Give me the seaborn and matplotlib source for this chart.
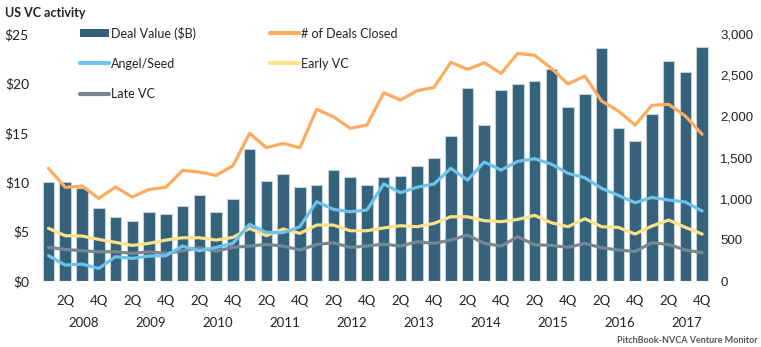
import numpy as np
import pandas as pd
import matplotlib
matplotlib.use("Agg")
import matplotlib.pyplot as plt
import seaborn as sns
from matplotlib.patches import Patch
from matplotlib.lines import Line2D
from matplotlib.ticker import FuncFormatter
from matplotlib.transforms import blended_transform_factory

# Quarterly US VC activity, 2008 Q1 - 2017 Q4
years = ["2008", "2009", "2010", "2011", "2012", "2013", "2014", "2015", "2016", "2017"]
quarters = ["1Q", "2Q", "3Q", "4Q"]

deal_value = [10.0, 10.0, 9.4, 7.4, 6.5, 6.1, 7.0, 6.8, 7.6, 8.7,
              7.0, 8.3, 13.4, 10.1, 10.8, 9.5, 9.7, 11.2, 10.5, 9.7,
              10.5, 10.6, 11.6, 12.5, 14.7, 19.5, 15.8, 19.3, 19.9, 20.2,
              21.5, 17.6, 18.9, 23.6, 15.5, 14.2, 16.9, 22.3, 21.2, 23.7]

deals_closed = [1369, 1138, 1154, 1004, 1142, 1020, 1113, 1138, 1344, 1324,
                1283, 1400, 1794, 1619, 1672, 1619, 2085, 1996, 1855, 1895,
                2287, 2198, 2312, 2352, 2656, 2571, 2652, 2522, 2765, 2741,
                2583, 2393, 2490, 2186, 2065, 1895, 2134, 2146, 2004, 1782]

angel_seed = [308, 194, 206, 154, 296, 275, 304, 308, 425, 368,
              409, 458, 688, 591, 587, 660, 964, 871, 842, 862,
              1180, 1073, 1140, 1178, 1369, 1227, 1445, 1348, 1454, 1486,
              1421, 1308, 1255, 1126, 1041, 951, 1016, 984, 960, 850]

early_vc = [640, 551, 547, 506, 470, 433, 458, 498, 526, 526,
            498, 530, 640, 551, 632, 579, 680, 680, 611, 611,
            645, 672, 660, 700, 781, 781, 733, 721, 749, 798,
            709, 660, 757, 660, 652, 571, 668, 741, 652, 571]

late_vc = [409, 385, 368, 356, 356, 336, 356, 336, 368, 405,
           364, 409, 425, 445, 425, 377, 445, 465, 409, 425,
           449, 425, 477, 458, 498, 559, 458, 425, 538, 441,
           433, 409, 458, 405, 377, 360, 465, 445, 377, 344]

C_BAR = "#33627a"
C_DEALS = "#fdab5e"
C_ANGEL = "#6cc3ee"
C_EARLY = "#fde188"
C_LATE = "#7b8594"

period = [f"{y} {q}" for y in years for q in quarters]
df = pd.DataFrame({
    "period": period,
    "pos": np.arange(len(period)),
    "deal_value": deal_value,
    "deals_closed": deals_closed,
    "angel_seed": angel_seed,
    "early_vc": early_vc,
    "late_vc": late_vc,
})

sns.set_theme(style="white")
plt.rcParams["font.family"] = ["Lato", "DejaVu Sans"]

fig = plt.figure(figsize=(7.61, 3.47), dpi=100)
ax = fig.add_axes([0.0527, 0.190, 0.881, 0.712])

sns.barplot(data=df, x="period", y="deal_value", order=period, color=C_BAR,
            saturation=1, width=0.69, edgecolor="#c3d0d8", linewidth=0.8, ax=ax)
ax.set_xlim(-0.5, len(period) - 0.5)
ax.set_ylim(0, 25)
ax.set_yticks([0, 5, 10, 15, 20, 25])
ax.yaxis.set_major_formatter(FuncFormatter(lambda v, p: f"${v:.0f}"))
ax.set_xlabel("")
ax.set_ylabel("")

ax2 = ax.twinx()
lw = 2.3
sns.lineplot(data=df, x="pos", y="late_vc", color=C_LATE, lw=lw, ax=ax2)
sns.lineplot(data=df, x="pos", y="early_vc", color=C_EARLY, lw=lw, ax=ax2)
sns.lineplot(data=df, x="pos", y="angel_seed", color=C_ANGEL, lw=lw, ax=ax2)
sns.lineplot(data=df, x="pos", y="deals_closed", color=C_DEALS, lw=lw, ax=ax2)
ax2.set_ylim(0, 3000)
ax2.set_xlim(-0.5, len(period) - 0.5)
ax2.set_yticks([0, 500, 1000, 1500, 2000, 2500, 3000])
ax2.yaxis.set_major_formatter(FuncFormatter(lambda v, p: f"{v:,.0f}"))
ax2.set_xlabel("")
ax2.set_ylabel("")

for a in (ax, ax2):
    for s in a.spines.values():
        s.set_visible(False)
    a.grid(False)

ax.tick_params(axis="y", length=0, pad=8, labelsize=10, labelcolor="#222222")
ax2.tick_params(axis="y", length=0, pad=7, labelsize=9.5, labelcolor="#222222")
for t in ax2.get_yticklabels():
    t.set_family(["Liberation Sans", "DejaVu Sans"])

# Quarter ticks (2Q / 4Q) and year labels beneath
qpos = [i for i in range(len(period)) if i % 4 in (1, 3)]
qlab = [quarters[i % 4] for i in qpos]
ax.set_xticks(qpos)
ax.set_xticklabels(qlab)
ax.tick_params(axis="x", length=0, pad=10, labelsize=9.5, labelcolor="#222222")

trans = blended_transform_factory(ax.transData, fig.transFigure)
for k, y in enumerate(years):
    ax.text(4 * k + 2.1, 0.069, y, transform=trans, ha="center", va="center",
            fontsize=9.5, color="#222222")

fig.text(0.007, 0.962, "US VC activity", fontsize=9, fontweight="bold",
         ha="left", va="center", color="#222222")
fig.text(0.995, 0.02, "PitchBook-NVCA Venture Monitor", fontsize=6.5,
         fontweight="bold", ha="right", va="center", color="#555555")

handles = [
    Patch(facecolor=C_BAR, edgecolor="none"),
    Line2D([], [], color=C_ANGEL, lw=3),
    Line2D([], [], color=C_LATE, lw=3),
    Line2D([], [], color=C_DEALS, lw=3),
    Line2D([], [], color=C_EARLY, lw=3),
]
labels = ["Deal Value ($B)", "Angel/Seed", "Late VC", "# of Deals Closed", "Early VC"]
leg = ax2.legend(handles, labels, ncol=2, loc="upper left",
                 bbox_to_anchor=(80 / 761, 1 - 26.5 / 347), bbox_transform=fig.transFigure,
                 frameon=False, fontsize=9, handlelength=2.35, handleheight=0.6,
                 handletextpad=0.15, columnspacing=5.9, labelspacing=1.45, borderpad=0,
                 borderaxespad=0)
for t in leg.get_texts():
    t.set_color("#222222")

fig.savefig("out.png", dpi=100)
